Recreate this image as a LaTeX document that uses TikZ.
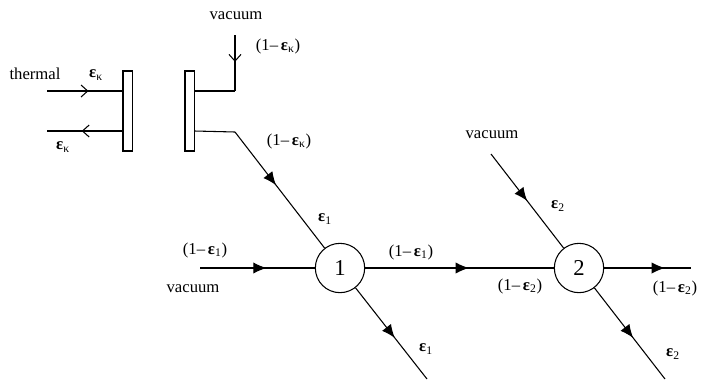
\documentclass[tikz,border=0pt]{standalone}
\usepackage{fontspec}
\setmainfont{Liberation Serif}
\usetikzlibrary{arrows.meta,decorations.markings}
\newcommand{\eps}[1]{\textbf{ε}\textsubscript{#1}}
\newcommand{\oneminus}[1]{(1–\,\eps{#1})}

\tikzset{
  every node/.style={font=\fontsize{12.5}{14}\selectfont},
  plate/.style={draw, fill=white, line width=0.8pt, minimum width=6.8pt, minimum height=60pt, inner sep=0pt},
  beam/.style={draw, fill=white, circle, line width=0.8pt, minimum size=37pt, inner sep=0pt, font=\fontsize{17}{19}\selectfont},
  line/.style={line width=0.8pt},
  solidmid/.style={line, postaction={decorate}, decoration={markings,
      mark=at position #1 with {\arrow{Latex[length=10pt,width=8.5pt]}}}},
  openmid/.style={line, postaction={decorate}, decoration={markings,
      mark=at position #1 with {\arrow{Straight Barb[length=5pt,width=9pt,line width=0.8pt]}}}}
}

\begin{document}
\begin{tikzpicture}[x=0.75pt, y=-0.75pt]
    \useasboundingbox (0,0) rectangle (703,379);
    % beam splitters and plates
    \node[plate] (plateL) at (127.5,111) {};
    \node[plate] (plateR) at (189.5,111) {};
    \node[beam] (bs1) at (340,268) {1};
    \node[beam] (bs2) at (579,268) {2};
    % free ends
    \coordinate (thermalIn) at (47,91);
    \coordinate (thermalOut) at (47,131);
    \coordinate (plateLin) at (plateL.west |- thermalIn);
    \coordinate (plateLout) at (plateL.west |- thermalOut);
    \coordinate (plateRa) at (plateR.east |- thermalIn);
    \coordinate (plateRb) at (plateR.east |- thermalOut);
    \coordinate (vacTop) at (235,35);
    \coordinate (bendTop) at (235,91);
    \coordinate (bendLow) at (235,132);
    \coordinate (vacLeft) at (200,268);
    \coordinate (vacRight) at (491,154);
    \coordinate (out1) at (427,379);
    \coordinate (out2) at (665,379);
    \coordinate (out3) at (691,268);
    % connectors
    \draw[openmid=0.55] (thermalIn) -- (plateLin);
    \draw[openmid=0.54] (plateLout) -- (thermalOut);
    \draw[line] (plateRa) -- (bendTop);
    \draw[openmid=0.48] (vacTop) -- (bendTop);
    \draw[line] (plateRb) -- (bendLow);
    \draw[solidmid=0.46] (bendLow) -- (bs1);
    \draw[solidmid=0.58] (vacLeft) -- (bs1);
    \draw[solidmid=0.55] (bs1) -- (out1);
    \draw[solidmid=0.55] (bs1) -- (bs2);
    \draw[solidmid=0.5] (vacRight) -- (bs2);
    \draw[solidmid=0.55] (bs2) -- (out2);
    \draw[solidmid=0.7] (bs2) -- (out3);
    % labels
    \node (vacA) at (236,16) {vacuum};
    \node (vacB) at (193,289) {vacuum};
    \node (vacC) at (492,135) {vacuum};
    \node (thermal) at (35,74) {thermal};
    \node (labA) at (96,75) {\eps{κ}};
    \node (labB) at (63,147) {\eps{κ}};
    \node (labC) at (278,46) {\oneminus{κ}};
    \node (labD) at (289,141) {\oneminus{κ}};
    \node (labE) at (325,219) {\eps{1}};
    \node (labF) at (205,250) {\oneminus{1}};
    \node (labG) at (411,252) {\oneminus{1}};
    \node (labH) at (426,349) {\eps{1}};
    \node (labI) at (558,206) {\eps{2}};
    \node (labJ) at (520,286) {\oneminus{2}};
    \node (labK) at (675,288) {\oneminus{2}};
    \node (labL) at (673,354) {\eps{2}};
\end{tikzpicture}
\end{document}
